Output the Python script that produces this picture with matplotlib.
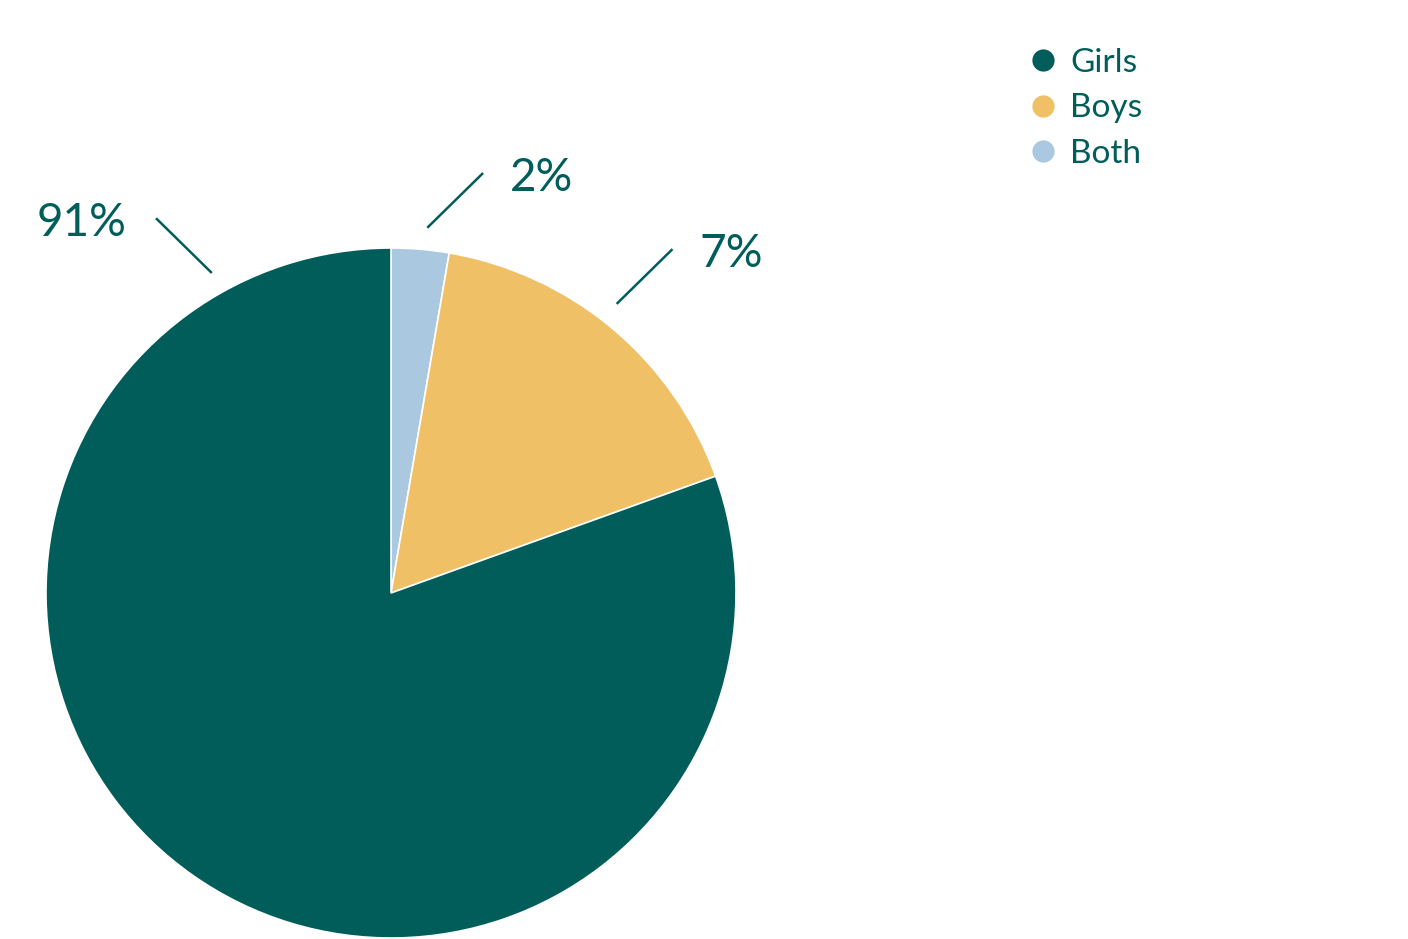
import matplotlib.pyplot as plt
from matplotlib.lines import Line2D
import numpy as np

# slice sizes as drawn (label texts are the published figures)
categories = ['Both', 'Boys', 'Girls']
slice_sizes = [2.7, 16.8, 80.5]
label_texts = ['2%', '7%', '91%']
colors = ['#aac8e0', '#f0c066', '#005d5a']
legend_order = ['Girls', 'Boys', 'Both']

text_color = '#005d5a'
plt.rcParams['font.family'] = ['Lato', 'DejaVu Sans']

W, H = 1408, 939
fig = plt.figure(figsize=(W / 100, H / 100), dpi=100)
ax = fig.add_axes([0, 0, 1, 1])

cx, cy, r = 391, H - 593, 345
ax.pie(slice_sizes, colors=colors, startangle=90, counterclock=False,
       center=(cx, cy), radius=r,
       wedgeprops=dict(edgecolor='white', linewidth=1.2))
ax.set_xlim(0, W)
ax.set_ylim(0, H)
ax.set_aspect('equal')
ax.axis('off')

# leader lines + labels (angle of line start around the pie, in degrees)
label_angles = [84.2, 52.0, 119.3]
for txt, ang in zip(label_texts, label_angles):
    a = np.deg2rad(ang)
    x0, y0 = cx + 368 * np.cos(a), cy + 368 * np.sin(a)
    dx = 54 if np.cos(a) > 0 else -54
    x1, y1 = x0 + dx, y0 + 53
    ax.plot([x0, x1], [y0, y1], color=text_color, lw=1.8)
    if dx > 0:
        ax.text(x1 + 28, y1 - 4, txt, color=text_color, fontsize=33,
                ha='left', va='center')
    else:
        ax.text(x1 - 30, y1 - 4, txt, color=text_color, fontsize=33,
                ha='right', va='center')

handles = [Line2D([], [], marker='o', linestyle='', markersize=16,
                  markerfacecolor=colors[categories.index(c)],
                  markeredgecolor='none') for c in legend_order]
leg = fig.legend(handles, legend_order, loc='upper left',
                 bbox_to_anchor=(996 / W, 1 - 18 / H), frameon=False,
                 fontsize=24, labelspacing=0.46, handletextpad=0.33,
                 handlelength=1.0)
for t in leg.get_texts():
    t.set_color(text_color)

fig.savefig('out.png', dpi=100, facecolor='white')
